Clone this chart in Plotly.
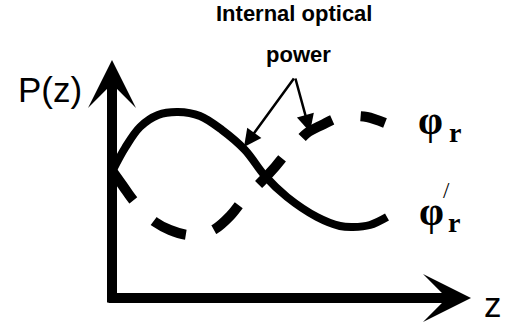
import plotly.graph_objects as go

# Schematic coordinates: z runs to the right, P(z) runs upwards
# (one unit per pixel of the 508x328 canvas)
solid_z = [113, 125, 140, 158, 178, 200, 222, 245, 265, 287, 317, 340, 353, 370, 387]
solid_p = [158, 180, 201, 213, 216, 212, 198, 178, 152, 131, 111, 102, 101, 103, 111]

dashed_z = [113, 123, 133, 145, 155, 170, 188, 202, 215, 230, 243, 253, 263, 275, 285,
            297, 307, 322, 337, 352, 367, 385]
dashed_p = [156, 142, 128, 115, 106, 98, 93, 94, 99, 112, 128, 138, 148, 161, 173,
            185, 195, 203, 210, 212, 211, 205]

# axis arrows (tail -> tip)
z_axis = [(107, 30), (471, 30)]
p_axis = [(112, 24), (112, 268)]

# "Internal optical power" pointers (shared apex -> tips on the curves)
pointer_apex = (295, 251)
pointer_tips = [(244, 181), (310, 196)]

# text labels
title_lines = ["Internal optical", "power"]
title_pos = [(294, 315), (298, 274)]
p_label, p_label_pos = "P(z)", (50, 239)
z_label, z_label_pos = "z", (493, 24)
phi_pos = [(430, 208), (431, 117)]
sub_r_pos = [(455, 196), (454, 106)]
prime_pos = (446, 138)

fig = go.Figure()

fig.add_trace(go.Scatter(
    x=solid_z, y=solid_p, mode="lines",
    line=dict(color="black", width=8, shape="spline"),
    hoverinfo="skip",
))
fig.add_trace(go.Scatter(
    x=dashed_z, y=dashed_p, mode="lines",
    line=dict(color="black", width=10, shape="spline", dash="35px,29px"),
    hoverinfo="skip",
))

# big axis arrows
for (tail, tip) in [z_axis, p_axis]:
    fig.add_annotation(
        x=tip[0], y=tip[1], ax=tail[0], ay=tail[1],
        xref="x", yref="y", axref="x", ayref="y",
        showarrow=True, arrowhead=3, arrowsize=0.8, arrowwidth=10,
        arrowcolor="black", standoff=0, text="",
    )

# thin pointer arrows
for tip in pointer_tips:
    fig.add_annotation(
        x=tip[0], y=tip[1], ax=pointer_apex[0], ay=pointer_apex[1],
        xref="x", yref="y", axref="x", ayref="y",
        showarrow=True, arrowhead=2, arrowsize=1.4, arrowwidth=2.5,
        arrowcolor="black", standoff=0, text="",
    )

sans = "Liberation Sans, Arial, sans-serif"
serif = "Liberation Serif, Times New Roman, serif"

for txt, (tx, ty) in zip(title_lines, title_pos):
    fig.add_annotation(x=tx, y=ty, text="<b>%s</b>" % txt, showarrow=False,
                       font=dict(family=sans, size=22, color="black"))

fig.add_annotation(x=p_label_pos[0], y=p_label_pos[1], text=p_label, showarrow=False,
                   font=dict(family=sans, size=35, color="black"))
fig.add_annotation(x=z_label_pos[0], y=z_label_pos[1], text=z_label, showarrow=False,
                   font=dict(family=sans, size=35, color="black"))

for (px, py) in phi_pos:
    fig.add_annotation(x=px, y=py, text="<b>φ</b>", showarrow=False,
                       font=dict(family=serif, size=40, color="black"))
for (rx, ry) in sub_r_pos:
    fig.add_annotation(x=rx, y=ry, text="<b>r</b>", showarrow=False,
                       font=dict(family=serif, size=28, color="black"))
fig.add_annotation(x=prime_pos[0], y=prime_pos[1], text="/", showarrow=False,
                   font=dict(family=serif, size=23, color="black"))

fig.update_xaxes(range=[0, 508], visible=False, fixedrange=True)
fig.update_yaxes(range=[0, 328], visible=False, fixedrange=True)
fig.update_layout(
    width=508, height=328,
    margin=dict(l=0, r=0, t=0, b=0),
    paper_bgcolor="white", plot_bgcolor="white",
    showlegend=False,
)

fig.write_html("out.html", config={"displayModeBar": False},
               post_script="document.body.style.margin='0';")
